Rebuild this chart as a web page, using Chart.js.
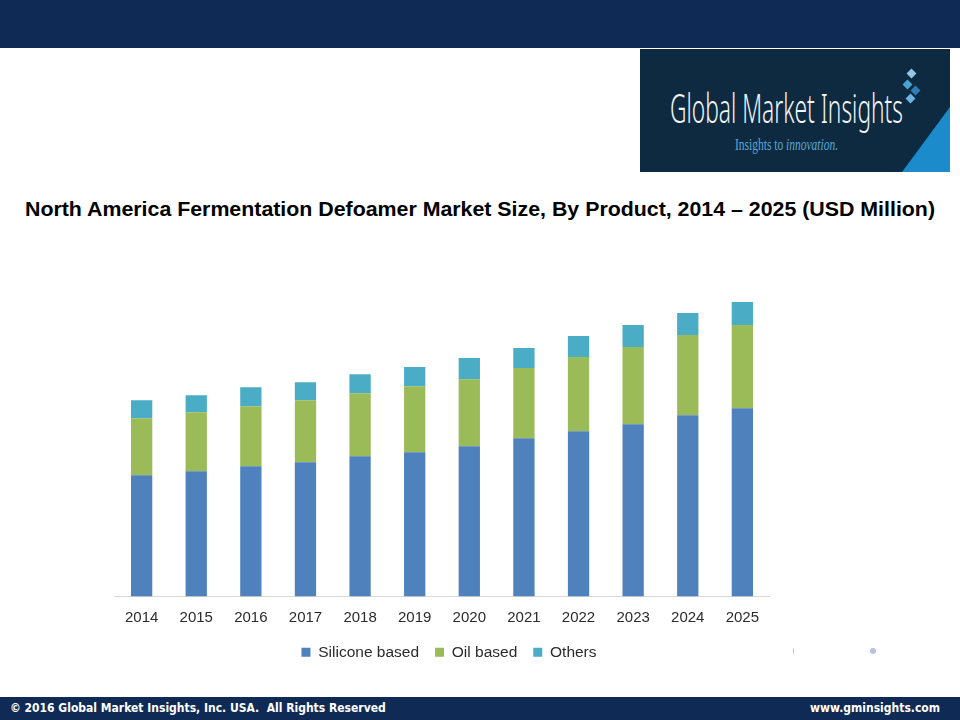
<!DOCTYPE html>
<html>
<head>
<meta charset="utf-8">
<script src="https://cdn.jsdelivr.net/npm/chart.js@4.4.0/dist/chart.umd.min.js"></script>
<style>
  body { margin: 0; width: 960px; height: 720px; position: relative; background: #fff; overflow: hidden; font-family: "Liberation Sans", Arial, sans-serif; }
  .topbar { position: absolute; left: 0; top: 0; width: 960px; height: 48px; background: #0f2a55; }
  .footer { position: absolute; left: 0; top: 697px; width: 960px; height: 23px; background: #0f2a55; color: #fff;
            font-family: "DejaVu Sans Condensed", "DejaVu Sans", sans-serif; font-weight: bold; font-size: 12px; line-height: 23px; }
  .footer .l { position: absolute; left: 10px; }
  .footer .r { position: absolute; right: 20px; }
  .logo { position: absolute; left: 640px; top: 49px; width: 310px; height: 123px; background: #0d2a40; overflow: hidden; }
  .fit { position: absolute; white-space: nowrap; transform-origin: 0 0; }
  .logo .name { left: 30px; top: 31px; color: #f2f4f6; font-family: "Noto Sans", sans-serif; font-weight: 300; font-size: 40px; }
  .logo .tag { left: 95px; top: 87px; color: #5aa8d8; font-family: "Liberation Serif", serif; font-size: 16px; }
  .logo .tri { position: absolute; left: 0; top: 0; width: 310px; height: 123px; background: #1b8bcb;
               clip-path: polygon(310px 58px, 310px 123px, 262px 123px); }
  .logo .d { position: absolute; width: 7px; height: 7px; transform: rotate(45deg); }
  .title { left: 25px; top: 198px; font-weight: bold; font-size: 20px; color: #000; }
  #wrap { position: absolute; left: 113px; top: 290px; width: 658px; height: 390px; }
  .dot { position: absolute; left: 870px; top: 648px; width: 6px; height: 6px; border-radius: 3px; background: #b4c3e3; }
  .tick { position: absolute; left: 793px; top: 648px; width: 1px; height: 6px; background: #c8c8c8; }
</style>
</head>
<body>
<div class="topbar"></div>
<div class="logo">
  <div class="tri"></div>
  <div class="fit name" data-w="233">Global Market Insights</div>
  <div class="fit tag" data-w="103">Insights to <i>innovation.</i></div>
  <div class="d" style="left:268px;top:21px;background:#8fc8e8;"></div>
  <div class="d" style="left:264px;top:32px;background:#4aa3d6;"></div>
  <div class="d" style="left:272px;top:38px;background:#2d7fb3;"></div>
  <div class="d" style="left:267px;top:46px;background:#6bb5e0;"></div>
</div>
<div class="fit title" data-w="910">North America Fermentation Defoamer Market Size, By Product, 2014 – 2025 (USD Million)</div>
<div id="wrap"><canvas id="marketChart"></canvas></div>
<div class="tick"></div>
<div class="dot"></div>
<div class="footer"><span class="l">© 2016 Global Market Insights, Inc. USA.&nbsp; All Rights Reserved</span><span class="r">www.gminsights.com</span></div>

<script>
// values (no value axis shown)
var years = ['2014', '2015', '2016', '2017', '2018', '2019', '2020', '2021', '2022', '2023', '2024', '2025'];
var siliconeBased = [121, 125, 130, 134, 140, 144, 150, 158, 165, 172, 181, 188];
var oilBased = [57, 59, 60, 62, 63, 66, 67, 70, 74, 77, 80, 83];
var others = [18, 17, 19, 18, 19, 19, 21, 20, 21, 22, 22, 23];

// squeeze text blocks to the widths seen in the picture
document.querySelectorAll('.fit').forEach(function (el) {
    var w = el.getBoundingClientRect().width;
    el.style.transform = 'scaleX(' + (el.dataset.w / w) + ')';
});

// pull the legend a bit closer to the year labels (and a touch to the right)
var legendNudge = {
    id: 'legendNudge',
    afterLayout: function (chart) {
        chart.legend.top -= 10;
        chart.legend.bottom -= 10;
        chart.legend.left += 7;
        chart.legend.right += 7;
    }
};

var marketChart = new Chart(document.getElementById('marketChart'), {
    type: 'bar',
    data: {
        labels: years,
        datasets: [
            { label: 'Silicone based', data: siliconeBased, backgroundColor: '#4f81bd' },
            { label: 'Oil based', data: oilBased, backgroundColor: '#9bbb59' },
            { label: 'Others', data: others, backgroundColor: '#4bacc6' }
        ]
    },
    options: {
        responsive: true,
        maintainAspectRatio: false,
        animation: false,
        datasets: {
            bar: { barPercentage: 0.39, categoryPercentage: 1 }
        },
        layout: { padding: { top: 6, left: 0, right: 0, bottom: 0 } },
        scales: {
            x: {
                stacked: true,
                grid: { display: false, drawTicks: false },
                border: { display: true, color: '#d9d9d9', width: 1 },
                ticks: { color: '#2b2b2b', font: { family: 'Liberation Sans', size: 15 }, padding: 12 }
            },
            y: {
                stacked: true,
                display: false,
                min: 0,
                max: 300
            }
        },
        plugins: {
            legend: {
                position: 'bottom',
                labels: {
                    boxWidth: 9,
                    boxHeight: 9,
                    color: '#2b2b2b',
                    font: { family: 'Liberation Sans', size: 15.5 },
                    padding: 16
                }
            },
            tooltip: { enabled: false }
        }
    },
    plugins: [legendNudge]
});
</script>
</body>
</html>
